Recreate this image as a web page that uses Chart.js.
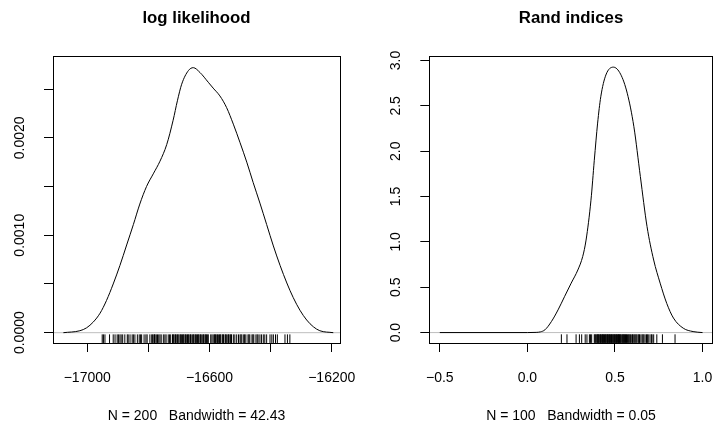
<!DOCTYPE html>
<html>
<head>
<meta charset="utf-8">
<script src="https://cdn.jsdelivr.net/npm/chart.js@4"></script>
<style>
  html, body { margin: 0; padding: 0; background: #fff; }
  #wrap { position: relative; width: 718px; height: 434px; }
  .panel { position: absolute; top: 0; width: 359px; height: 434px; }
</style>
</head>
<body>
<div id="wrap">
  <div class="panel" style="left:0"><canvas id="ll" width="359" height="434"></canvas></div>
  <div class="panel" style="left:359px"><canvas id="ri" width="359" height="434"></canvas></div>
</div>
<script>
// log likelihood density
const llX = [-17078, -17024, -17002, -16980, -16958, -16937, -16915, -16893, -16871, -16849, -16828,
  -16806, -16784, -16762, -16740, -16719, -16705, -16691, -16669, -16653, -16631, -16604, -16588,
  -16566, -16544, -16522, -16500, -16478, -16457, -16435, -16413, -16391, -16369, -16347, -16326,
  -16304, -16282, -16260, -16239, -16195]
const llDens = [0, 0.00002, 0.00005, 0.00011, 0.00020, 0.00033, 0.00050, 0.00069, 0.00090, 0.00111, 0.00132,
  0.00150, 0.00163, 0.00176, 0.00193, 0.00218, 0.00238, 0.00255, 0.00269, 0.00272, 0.00267, 0.00257, 0.00251,
  0.00243, 0.00231, 0.00214, 0.00195, 0.00175, 0.00154, 0.00133, 0.00111, 0.00089, 0.00069, 0.00051, 0.00036,
  0.00023, 0.00013, 0.00006, 0.00002, 0]
const llRug = [-16951, -16947, -16942, -16927, -16915, -16909, -16902, -16898, -16893, -16889, -16884,
  -16877, -16869, -16866, -16860, -16853, -16849, -16844, -16836, -16830, -16826, -16822, -16814, -16808,
  -16804, -16795, -16789, -16786, -16782, -16780, -16778, -16774, -16770, -16766, -16762, -16758, -16751,
  -16746, -16742, -16735, -16731, -16727, -16721, -16719, -16717, -16713, -16711, -16709, -16705, -16703,
  -16700, -16696, -16694, -16692, -16688, -16686, -16684, -16680, -16678, -16676, -16672, -16670, -16668,
  -16664, -16662, -16660, -16655, -16653, -16651, -16647, -16645, -16643, -16639, -16637, -16635, -16631,
  -16629, -16627, -16622, -16620, -16618, -16614, -16612, -16610, -16606, -16604, -16596, -16592, -16588,
  -16584, -16582, -16580, -16576, -16574, -16571, -16567, -16565, -16563, -16558, -16556, -16554, -16549,
  -16547, -16545, -16540, -16538, -16536, -16532, -16530, -16528, -16522, -16517, -16511, -16505, -16500,
  -16497, -16494, -16488, -16485, -16481, -16474, -16471, -16468, -16461, -16458, -16455, -16448, -16444,
  -16441, -16435, -16430, -16424, -16419, -16413, -16402, -16396, -16391, -16384, -16378, -16353, -16345,
  -16337]
const llXTicks = [-17000, -16800, -16600, -16400, -16200]
const llXLabeled = [-17000, -16600, -16200]
const llYTicks = [0, 0.0005, 0.0010, 0.0015, 0.0020, 0.0025]
const llYLabeled = [0, 0.0010, 0.0020]
const llXRange = [-17112, -16173]
const llYRange = [-0.000106, 0.002838]

// Rand indices density
const riX = [-0.5, 0.0, 0.05, 0.075, 0.100, 0.137, 0.175, 0.213, 0.250, 0.288, 0.316, 0.335, 0.363,
  0.382, 0.401, 0.419, 0.448, 0.491, 0.532, 0.570, 0.608, 0.645, 0.683, 0.721, 0.758, 0.796, 0.834,
  0.890, 0.946, 1.0]
const riDens = [0, 0, 0.002, 0.008, 0.030, 0.121, 0.25, 0.40, 0.545, 0.69, 0.84, 1.02, 1.46,
  1.90, 2.31, 2.60, 2.84, 2.927, 2.85, 2.64, 2.27, 1.72, 1.17, 0.80, 0.545, 0.32, 0.16,
  0.048, 0.011, 0]
const riRug = [0.194, 0.226, 0.278, 0.297, 0.310, 0.330, 0.340, 0.354, 0.360, 0.367, 0.382, 0.386,
  0.39, 0.396, 0.399, 0.402, 0.405, 0.408, 0.413, 0.417, 0.419, 0.424, 0.428, 0.43, 0.434, 0.437,
  0.44, 0.445, 0.448, 0.45, 0.455, 0.458, 0.46, 0.464, 0.468, 0.47, 0.474, 0.478, 0.48, 0.484, 0.488,
  0.49, 0.494, 0.498, 0.5, 0.504, 0.508, 0.51, 0.515, 0.518, 0.52, 0.523, 0.526, 0.53, 0.533, 0.536,
  0.542, 0.545, 0.548, 0.552, 0.554, 0.56, 0.563, 0.566, 0.572, 0.576, 0.58, 0.585, 0.588, 0.596,
  0.6, 0.604, 0.61, 0.615, 0.62, 0.625, 0.632, 0.636, 0.64, 0.648, 0.655, 0.66, 0.665, 0.672, 0.68,
  0.685, 0.69, 0.7, 0.708, 0.712, 0.721, 0.739, 0.771, 0.843]
const riXTicks = [-0.5, 0.0, 0.5, 1.0]
const riYTicks = [0, 0.5, 1.0, 1.5, 2.0, 2.5, 3.0]
const riXRange = [-0.560, 1.058]
const riYRange = [-0.115, 3.048]

const FONT = "'Liberation Sans', Arial, sans-serif"
Chart.defaults.font.family = FONT
Chart.defaults.color = '#000'

const minus = s => s.replace('-', '\u2212')

// full box around the plot region, like R's box()
const frame = {
    id: 'frame',
    afterDraw(chart) {
        const {ctx, chartArea: a} = chart
        ctx.save()
        ctx.strokeStyle = '#000'
        ctx.lineWidth = 1
        ctx.strokeRect(Math.round(a.left) + 0.5, Math.round(a.top) + 0.5,
            Math.round(a.right - a.left), Math.round(a.bottom - a.top))
        ctx.restore()
    }
}

// no extra side padding from the tick labels, plot box is placed by hand
const noPad = s => { s.paddingLeft = 0; s.paddingRight = 0; s.paddingTop = 0; s.paddingBottom = 0 }

const density_chart = (canvas_id, o) => {
    const xs = o.x.map((v, i) => ({x: v, y: o.dens[i]}))
    const config = {
        type: 'scatter',
        data: {
            datasets: [
                {
                    data: xs,
                    showLine: true,
                    borderColor: '#000',
                    borderWidth: 1,
                    pointRadius: 0,
                    cubicInterpolationMode: 'monotone',
                },
                {
                    data: o.rug.map(v => ({x: v, y: o.yRange[0] * 0.58})),
                    pointStyle: 'line',
                    rotation: 90,
                    radius: 4.3,
                    borderColor: '#000',
                    borderWidth: 1,
                },
                {
                    data: [{x: o.xRange[0], y: 0}, {x: o.xRange[1], y: 0}],
                    showLine: true,
                    borderColor: '#bebebe',
                    borderWidth: 1,
                    pointRadius: 0,
                }
            ]
        },
        options: {
            responsive: false,
            animation: false,
            layout: {padding: {left: 0, right: o.padRight, top: 0, bottom: 0}},
            plugins: {
                legend: {display: false},
                tooltip: {enabled: false},
                title: {
                    display: true,
                    text: o.title,
                    fullSize: false,
                    font: {size: 16.8, weight: 'bold'},
                    padding: {top: 8, bottom: 28},
                },
                subtitle: {
                    display: true,
                    text: o.sub,
                    position: 'bottom',
                    fullSize: false,
                    font: {size: 14},
                    padding: {top: 0, bottom: 9.6},
                }
            },
            scales: {
                x: {
                    type: 'linear',
                    min: o.xRange[0],
                    max: o.xRange[1],
                    afterBuildTicks: s => { s.ticks = o.xTicks.map(v => ({value: v})) },
                    afterFit: s => { s.height = 64.6; noPad(s) },
                    grid: {drawOnChartArea: false, drawTicks: true, tickLength: 9, color: '#000'},
                    border: {display: true, color: '#000'},
                    ticks: {
                        autoSkip: false,
                        maxRotation: 0,
                        padding: 17.6,
                        font: {size: 14},
                        callback: v => o.xLabeled.includes(v) ? minus(v.toFixed(o.xDigits)) : ''
                    }
                },
                y: {
                    type: 'linear',
                    min: o.yRange[0],
                    max: o.yRange[1],
                    afterBuildTicks: s => { s.ticks = o.yTicks.map(v => ({value: v})) },
                    afterFit: s => { s.width = o.yWidth; noPad(s) },
                    grid: {drawOnChartArea: false, drawTicks: true, tickLength: 9, color: '#000'},
                    border: {display: true, color: '#000'},
                    ticks: {
                        autoSkip: false,
                        minRotation: 90,
                        maxRotation: 90,
                        crossAlign: 'center',
                        padding: o.yPad,
                        font: {size: 14},
                        callback: v => o.yLabeled.includes(v) ? v.toFixed(o.yDigits) : ''
                    }
                }
            }
        },
        plugins: [frame]
    }
    new Chart(document.getElementById(canvas_id), config)
}

density_chart('ll', {
    x: llX, dens: llDens, rug: llRug,
    xTicks: llXTicks, xLabeled: llXLabeled, xDigits: 0,
    yTicks: llYTicks, yLabeled: llYLabeled, yDigits: 4,
    xRange: llXRange, yRange: llYRange,
    title: 'log likelihood', sub: 'N = 200   Bandwidth = 42.43',
    padRight: 19, yWidth: 53, yPad: 2.6
})

density_chart('ri', {
    x: riX, dens: riDens, rug: riRug,
    xTicks: riXTicks, xLabeled: riXTicks, xDigits: 1,
    yTicks: riYTicks, yLabeled: riYTicks, yDigits: 1,
    xRange: riXRange, yRange: riYRange,
    title: 'Rand indices', sub: 'N = 100   Bandwidth = 0.05',
    padRight: 2, yWidth: 70.3, yPad: 14.3
})
</script>
</body>
</html>
